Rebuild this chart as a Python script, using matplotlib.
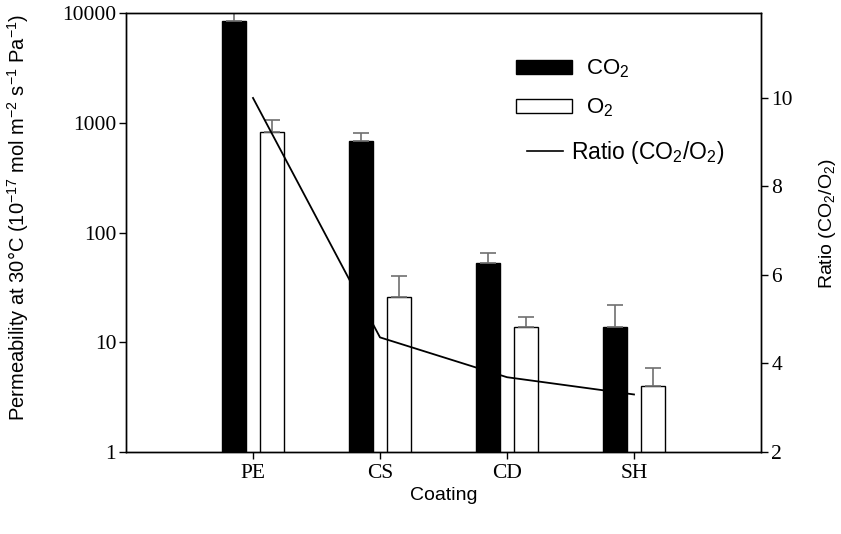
import numpy as np
import matplotlib
matplotlib.use("Agg")
import matplotlib.pyplot as plt
from matplotlib.patches import Patch
from matplotlib.lines import Line2D

coatings = ["PE", "CS", "CD", "SH"]
co2 = [8450, 686, 53, 13.9]
co2_err = [1550, 121, 12, 8.0]
o2 = [830, 25.7, 13.9, 3.97]
o2_err = [222, 14.7, 3.0, 1.9]
ratio = [10.0, 4.59, 3.69, 3.30]

SERIF = "Liberation Serif"
SANS = "Liberation Sans"

plt.rcParams["mathtext.fontset"] = "custom"
plt.rcParams["mathtext.rm"] = SANS
plt.rcParams["mathtext.it"] = SANS + ":italic"
plt.rcParams["mathtext.bf"] = SANS + ":bold"

fig = plt.figure(figsize=(8.41, 5.34), dpi=100)
ax = fig.add_axes([126 / 841, 1 - 452 / 534, 635 / 841, 439 / 534])

x = np.arange(1, len(coatings) + 1)
w = 0.184
off = 0.15
ekw = dict(ecolor="#707070", capsize=6, elinewidth=1.2, capthick=1.2)

ax.bar(x - off, co2, width=w, color="black", edgecolor="black", linewidth=1,
       yerr=[np.zeros(4), co2_err], error_kw=ekw, zorder=2)
ax.bar(x + off, o2, width=w, color="white", edgecolor="black", linewidth=1,
       yerr=[np.zeros(4), o2_err], error_kw=ekw, zorder=2)

ax.set_yscale("log")
ax.set_ylim(1, 10000)
ax.set_xlim(0, 5)
ax.set_yticks([1, 10, 100, 1000, 10000])
ax.set_yticklabels(["1", "10", "100", "1000", "10000"])
ax.minorticks_off()
ax.set_xticks(x)
ax.set_xticklabels(coatings)
for lab in ax.get_xticklabels() + ax.get_yticklabels():
    lab.set_fontfamily(SERIF)
    lab.set_fontsize(15.5)
ax.tick_params(direction="out", length=5, width=1)
ax.tick_params(axis="y", pad=2)

ax.set_ylabel("Permeability at 30°C (10$^{-17}$ mol m$^{-2}$ s$^{-1}$ Pa$^{-1}$)",
              fontfamily=SANS, fontsize=14.5)
ax.yaxis.set_label_coords(-0.15, 0.535)
ax.set_xlabel("Coating", fontfamily=SANS, fontsize=14, labelpad=3)

ax2 = ax.twinx()
ax2.plot(x, ratio, color="black", linewidth=1.3, zorder=3)
ax2.set_ylim(2, 11.92)
ax2.set_yticks([2, 4, 6, 8, 10])
for lab in ax2.get_yticklabels():
    lab.set_fontfamily(SERIF)
    lab.set_fontsize(15.5)
ax2.tick_params(direction="out", length=5, width=1, pad=2.5)
ax2.set_ylabel("Ratio (CO$_2$/O$_2$)", fontfamily=SANS, fontsize=14)
ax2.yaxis.set_label_coords(1.088, 0.52)

for a in (ax, ax2):
    for s in a.spines.values():
        s.set_linewidth(1)

leg1 = ax2.legend([Patch(facecolor="black", edgecolor="black"),
                   Patch(facecolor="white", edgecolor="black")],
                  ["CO$_2$", "O$_2$"],
                  loc="center left", bbox_to_anchor=(505 / 841, 1 - 88.5 / 534),
                  bbox_transform=fig.transFigure, frameon=False, borderpad=0,
                  prop={"family": SANS, "size": 16},
                  handlelength=2.52, handleheight=0.6, labelspacing=0.75, handletextpad=0.63)
ax2.add_artist(leg1)
ax2.legend([Line2D([0], [0], color="black", linewidth=1.2)],
           ["Ratio (CO$_2$/O$_2$)"],
           loc="center left", bbox_to_anchor=(516 / 841, 1 - 153 / 534),
           bbox_transform=fig.transFigure, frameon=False, borderpad=0,
           prop={"family": SANS, "size": 16.5},
           handlelength=1.55, handletextpad=0.36)

fig.savefig("out.png", dpi=100)
